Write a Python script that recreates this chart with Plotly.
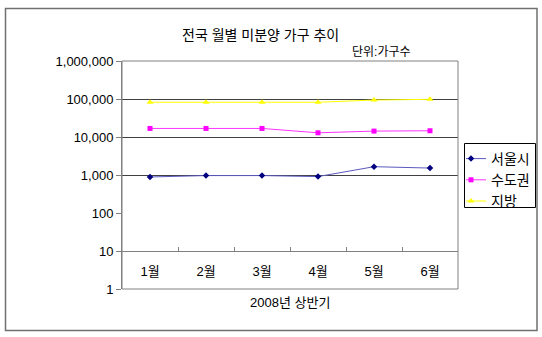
import plotly.graph_objects as go

months = ["1월", "2월", "3월", "4월", "5월", "6월"]
seoul = [887, 965, 965, 908, 1655, 1523]
capital = [16800, 16800, 16800, 12900, 14300, 14600]
local = [82000, 82000, 82000, 82000, 94000, 98000]
ytick_vals = [1, 10, 100, 1000, 10000, 100000, 1000000]
ytick_text = ["1", "10", "100", "1,000", "10,000", "100,000", "1,000,000"]
grid_vals = [1000, 10000, 100000]

W, H = 542, 337
L, R, T, B = 122, 458, 61, 289

def px(x):
    return (x - L) / (R - L)

def py(y):
    return (B - y) / (B - T)

FONT = "Liberation Sans, Arial, Noto Sans CJK KR, sans-serif"

fig = go.Figure()
fig.add_trace(go.Scatter(x=months, y=seoul, name="서울시", mode="lines+markers",
                         line=dict(color="#5a5ac0", width=1),
                         marker=dict(symbol="diamond", size=5, color="#000080")))
fig.add_trace(go.Scatter(x=months, y=capital, name="수도권", mode="lines+markers",
                         line=dict(color="#ff33ff", width=1),
                         marker=dict(symbol="square", size=5, color="#ff00ff")))
fig.add_trace(go.Scatter(x=months, y=local, name="지방", mode="lines+markers",
                         line=dict(color="#ffff00", width=1),
                         marker=dict(symbol="triangle-up", size=6, color="#ffff00")))

fig.update_layout(
    width=W, height=H,
    margin=dict(l=L, r=W - R, t=T, b=H - B, autoexpand=False),
    paper_bgcolor="white", plot_bgcolor="white",
    font=dict(family=FONT, size=13, color="black"),
    showlegend=True,
    legend=dict(x=px(466), y=py(143), xanchor="left", yanchor="top",
                borderwidth=0, bgcolor="rgba(0,0,0,0)", indentation=-15,
                font=dict(size=14, family=FONT), itemwidth=30, tracegroupgap=0),
    xaxis=dict(type="category", range=[-0.5, 5.5], anchor="free", position=1/6,
               tickson="boundaries", ticks="inside", ticklen=4, tickcolor="#808080",
               showline=True, linecolor="#808080", linewidth=1, showgrid=False,
               zeroline=False, ticklabelstandoff=8, tickfont=dict(size=13)),
    yaxis=dict(type="log", range=[0, 6], tickmode="array", tickvals=ytick_vals,
               ticktext=ytick_text, ticks="outside", ticklen=5, tickcolor="#808080",
               showline=True, linecolor="#808080", linewidth=1, showgrid=False,
               zeroline=False, tickfont=dict(size=13),
               minor=dict(tickmode="array", tickvals=grid_vals, showgrid=True,
                          gridcolor="#404040", gridwidth=1, ticks="")),
    shapes=[
        dict(type="rect", xref="paper", yref="paper", x0=0, x1=1, y0=0, y1=1,
             line=dict(color="#808080", width=1), layer="above"),
        dict(type="rect", xref="paper", yref="paper", x0=px(5.5), x1=px(537),
             y0=py(330.5), y1=py(8.5), line=dict(color="#707070", width=1.5)),
        dict(type="rect", xref="paper", yref="paper", x0=px(464.5), x1=px(535.5),
             y0=py(207.5), y1=py(143.5), line=dict(color="black", width=1)),
    ],
    annotations=[
        dict(text="전국 월별 미분양 가구 추이", xref="paper", yref="paper",
             x=px(260), y=py(25), showarrow=False, font=dict(size=14)),
        dict(text="단위:가구수", xref="paper", yref="paper",
             x=px(413), y=py(43), showarrow=False, font=dict(size=12)),
        dict(text="2008년 상반기", xref="paper", yref="paper",
             x=0.5, y=py(312), showarrow=False, font=dict(size=13)),
    ],
)

fig.write_html("out.html")
